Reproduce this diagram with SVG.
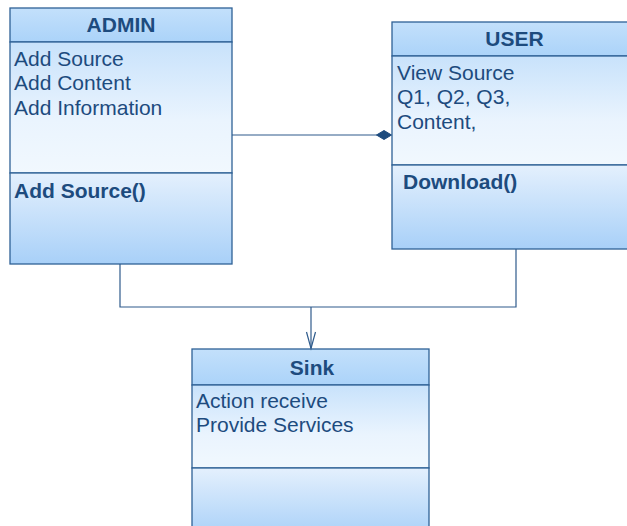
<svg xmlns="http://www.w3.org/2000/svg" width="627" height="526" viewBox="0 0 627 526">
<defs>
<linearGradient id="gh" x1="0" y1="0" x2="0" y2="1"><stop offset="0" stop-color="#c3e0fb"/><stop offset="1" stop-color="#abd3f9"/></linearGradient>
<linearGradient id="ga" x1="0" y1="0" x2="0" y2="1"><stop offset="0" stop-color="#c8e2fb"/><stop offset="0.6" stop-color="#eaf4fe"/><stop offset="1" stop-color="#f1f8fe"/></linearGradient>
<linearGradient id="gm" x1="0" y1="0" x2="0" y2="1"><stop offset="0" stop-color="#e4f0fd"/><stop offset="1" stop-color="#a8d0f8"/></linearGradient>
</defs>
<style>
.box{stroke:#2f6196;stroke-width:1.3}
.h{fill:url(#gh)}.a{fill:url(#ga)}.m{fill:url(#gm)}
.t{font-family:"Liberation Sans",Arial,sans-serif;font-size:21px;fill:#1d4b7e}
.b{font-weight:bold}
.c{text-anchor:middle}
.conn{stroke:#2f5b8c;stroke-width:1.2;fill:none}
</style>
<g id="ADMIN">
<rect class="box h" x="10" y="8" width="222" height="34"/>
<rect class="box a" x="10" y="42" width="222" height="131"/>
<rect class="box m" x="10" y="173" width="222" height="91"/>
<text class="t b c" x="121" y="32">ADMIN</text>
<text class="t" x="14" y="65.5">Add Source</text>
<text class="t" x="14" y="90">Add Content</text>
<text class="t" x="14" y="114.5">Add Information</text>
<text class="t b" x="14" y="197.5">Add Source()</text>
</g>
<g id="USER">
<rect class="box h" x="392" y="22" width="245" height="34"/>
<rect class="box a" x="392" y="56" width="245" height="109"/>
<rect class="box m" x="392" y="165" width="245" height="84"/>
<text class="t b c" x="514.5" y="46">USER</text>
<text class="t" x="397" y="79.5">View Source</text>
<text class="t" x="397" y="104">Q1, Q2, Q3,</text>
<text class="t" x="397" y="128.5">Content,</text>
<text class="t b" x="403" y="188.5">Download()</text>
</g>
<g id="Sink">
<rect class="box h" x="192" y="349" width="237" height="36"/>
<rect class="box a" x="192" y="385" width="237" height="83"/>
<rect class="box m" x="192" y="468" width="237" height="70"/>
<text class="t b c" x="312" y="374.5">Sink</text>
<text class="t" x="196" y="407.5">Action receive</text>
<text class="t" x="196" y="432">Provide Services</text>
</g>
<g id="connectors">
<path class="conn" d="M232 135 H377"/>
<path d="M376.5 135 L384 130.5 L391.5 135 L384 139.5 Z" fill="#1d4b7e" stroke="#1d4b7e" stroke-width="1"/>
<path class="conn" d="M120 264 V307 H516 V249"/>
<path class="conn" d="M311 307 V348.5"/>
<path class="conn" d="M306.5 332 L311 348.5 L315.5 332"/>
</g>
</svg>
